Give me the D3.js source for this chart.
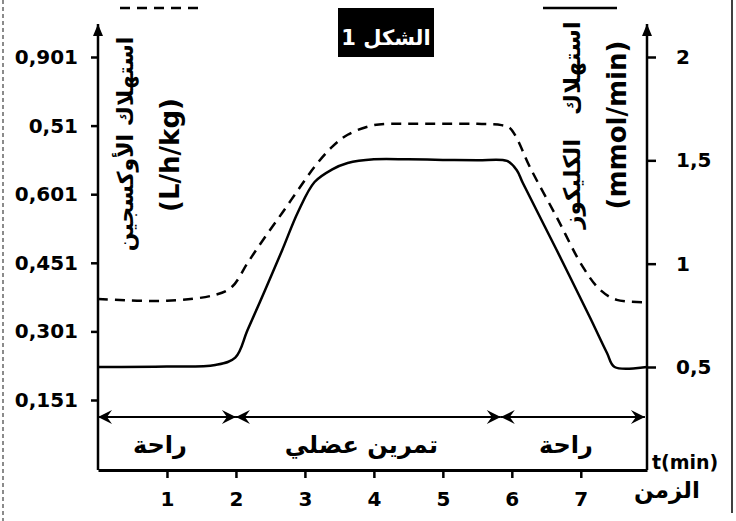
<!DOCTYPE html>
<html><head><meta charset="utf-8">
<script src="https://cdn.jsdelivr.net/npm/d3@7"></script>
<style>
html,body{margin:0;padding:0;background:#fff;}
svg{display:block;}
text{font-family:"DejaVu Sans",sans-serif;}
</style></head>
<body>
<svg id="chart" width="736" height="521"></svg>
<script>
// ---- data ----
const glucoseTime = [0,1,1.7,1.99,2.17,2.42,2.67,2.9,3.14,3.39,3.62,4.0,4.5,5.0,5.5,5.93,6.07,6.16,6.65,7.13,7.38,7.49,7.96];
const glucose     = [0.5,0.502,0.51,0.545,0.68,0.87,1.065,1.25,1.395,1.455,1.487,1.505,1.505,1.502,1.5,1.497,1.453,1.39,1.066,0.742,0.568,0.5,0.5];
const oxygenTime  = [0,1,1.7,1.94,2.17,2.42,2.67,2.9,3.14,3.39,3.62,4.0,4.5,5.0,5.5,5.85,5.97,6.07,6.26,6.65,7.03,7.28,7.52,7.96];
const oxygen      = [0.372,0.368,0.381,0.398,0.451,0.507,0.56,0.61,0.661,0.704,0.731,0.752,0.755,0.755,0.755,0.752,0.746,0.724,0.661,0.551,0.442,0.392,0.37,0.365];
const xTicks = [1,2,3,4,5,6,7];
const leftTickValues = [0.151,0.301,0.451,0.601,0.751,0.901];
const leftTickLabels = ["0,151","0,301","0,451","0,601","0,51","0,901"];
const rightTickValues = [0.5,1,1.5,2];
const rightTickLabels = ["0,5","1","1,5","2"];
const phaseBounds = [0,2,5.84,7.93];
const phaseLabels = ["راحة","تمرين عضلي","راحة"];
const title = "الشكل 1";
const leftTitleAr = "استهلاك الأوكسجين";
const leftTitleUnit = "(L/h/kg)";
const rightTitleAr = "استهلاك   الكليكوز";
const rightTitleUnit = "(mmol/min)";
const xTitle = "t(min)";
const xTitleAr = "الزمن";

// ---- layout ----
const svg = d3.select("#chart");
const L = 98, R = 647, B = 470, T = 22;
const x = d3.scaleLinear().domain([0,7.96]).range([L,R]);
const yL = d3.scaleLinear().domain([0.151,0.901]).range([400,57]);
const yR = d3.scaleLinear().domain([0.5,2]).range([367,57]);

// borders
svg.append("line").attr("x1",3).attr("x2",3).attr("y1",0).attr("y2",521)
  .attr("stroke","#666").attr("stroke-width",1.5).attr("stroke-dasharray","4,3");
svg.append("line").attr("x1",732).attr("x2",732).attr("y1",0).attr("y2",513)
  .attr("stroke","#000").attr("stroke-width",1.5);

// markers
const defs = svg.append("defs");
defs.append("marker").attr("id","axArrow").attr("markerUnits","userSpaceOnUse")
  .attr("viewBox","-12 -6 14 12").attr("refX",0).attr("refY",0)
  .attr("markerWidth",14).attr("markerHeight",12).attr("orient","auto")
  .append("path").attr("d","M0,0 L-12,-5 L-12,5 Z").attr("fill","#000");
defs.append("marker").attr("id","phArrow").attr("markerUnits","userSpaceOnUse")
  .attr("viewBox","-15 -8 16 16").attr("refX",0).attr("refY",0)
  .attr("markerWidth",16).attr("markerHeight",16).attr("orient","auto-start-reverse")
  .append("path").attr("d","M0,0 L-14,-7 L-9,0 L-14,7 Z").attr("fill","#000");

// vertical axis lines with arrows
[L,R].forEach(xx=>{
  svg.append("line").attr("x1",xx).attr("x2",xx).attr("y1",B).attr("y2",T+2)
    .attr("stroke","#000").attr("stroke-width",2.5).attr("marker-end","url(#axArrow)");
});

const tickFont = sel => sel.attr("font-size",20).attr("font-weight","bold")
  .attr("font-family","DejaVu Sans").attr("fill","#000");

// left axis ticks
const gL = svg.append("g").attr("transform",`translate(${L},0)`)
  .call(d3.axisLeft(yL).tickValues(leftTickValues).tickFormat((d,i)=>leftTickLabels[i]).tickSize(7).tickPadding(13));
gL.select(".domain").remove();
gL.selectAll(".tick line").attr("stroke","#000").attr("stroke-width",2.5);
gL.selectAll(".tick text").call(tickFont);

// right axis ticks
const gR = svg.append("g").attr("transform",`translate(${R},0)`)
  .call(d3.axisRight(yR).tickValues(rightTickValues).tickFormat((d,i)=>rightTickLabels[i]).tickSize(9).tickPadding(20));
gR.select(".domain").remove();
gR.selectAll(".tick line").attr("stroke","#000").attr("stroke-width",2.5);
gR.selectAll(".tick text").call(tickFont);

// bottom axis
const gB = svg.append("g").attr("transform",`translate(0,${B})`)
  .call(d3.axisBottom(x).tickValues(xTicks).tickFormat(d3.format("d")).tickSize(8).tickSizeOuter(0).tickPadding(14));
gB.select(".domain").attr("stroke","#000").attr("stroke-width",3);
gB.selectAll(".tick line").attr("stroke","#000").attr("stroke-width",2.5);
gB.selectAll(".tick text").call(tickFont);

// curves
const curve = d3.curveCatmullRom.alpha(0.5);
const lineG = d3.line().x((d,i)=>x(glucoseTime[i])).y(d=>yR(d)).curve(curve);
const lineO = d3.line().x((d,i)=>x(oxygenTime[i])).y(d=>yL(d)).curve(curve);
svg.append("path").attr("d",lineO(oxygen)).attr("fill","none").attr("stroke","#000")
  .attr("stroke-width",2.5).attr("stroke-dasharray","10,7");
svg.append("path").attr("d",lineG(glucose)).attr("fill","none").attr("stroke","#000")
  .attr("stroke-width",2.5);

// phase arrows
const phaseY = 417;
phaseLabels.forEach((lab,i)=>{
  const a = x(phaseBounds[i]), b = x(phaseBounds[i+1]);
  svg.append("line").attr("x1",a).attr("x2",b).attr("y1",phaseY).attr("y2",phaseY)
    .attr("stroke","#000").attr("stroke-width",2)
    .attr("marker-start","url(#phArrow)").attr("marker-end","url(#phArrow)");
  svg.append("text").attr("x",(a+b)/2 - 7).attr("y",phaseY+36)
    .attr("text-anchor","middle").attr("font-size",24).attr("font-weight","bold")
    .attr("direction","rtl").text(lab);
});

// legend samples
svg.append("line").attr("x1",120).attr("x2",205).attr("y1",8).attr("y2",8)
  .attr("stroke","#000").attr("stroke-width",2.5).attr("stroke-dasharray","10,7");
svg.append("line").attr("x1",543).attr("x2",617).attr("y1",8).attr("y2",8)
  .attr("stroke","#000").attr("stroke-width",2.5);

// title box
svg.append("rect").attr("x",338).attr("y",8).attr("width",96).attr("height",49).attr("fill","#000");
svg.append("text").attr("x",386).attr("y",45).attr("text-anchor","middle").attr("direction","rtl")
  .attr("font-size",21).attr("font-weight","bold").attr("fill","#fff").text(title);

// y titles
function vtext(cx, cy, str, size, weight){
  svg.append("text").attr("transform",`translate(${cx},${cy}) rotate(-90)`)
    .attr("text-anchor","middle").attr("dy","0.35em").attr("direction","rtl")
    .attr("font-size",size).attr("font-weight",weight)
    .style("white-space","pre").text(str);
}
vtext(125,144,leftTitleAr,22,"bold");
vtext(170,155,leftTitleUnit,26,"bold");
vtext(572,125,rightTitleAr,23,"bold");
vtext(617,125,rightTitleUnit,26,"bold");

// x title
svg.append("text").attr("x",652).attr("y",469).attr("font-size",19).attr("font-weight","bold").text(xTitle);
svg.append("text").attr("x",667).attr("y",498).attr("text-anchor","middle").attr("font-size",23).attr("font-weight","bold").text(xTitleAr);
</script>
</body></html>
